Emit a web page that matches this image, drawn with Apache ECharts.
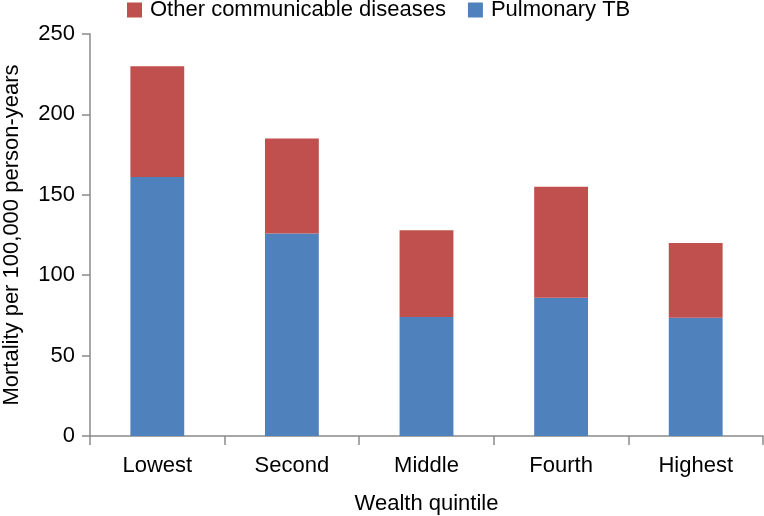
<!DOCTYPE html>
<html>
<head>
<meta charset="utf-8">
<script src="https://cdn.jsdelivr.net/npm/echarts@6/dist/echarts.min.js"></script>
<style>html,body{margin:0;padding:0;background:#fff}#c{width:764px;height:516px}</style>
</head>
<body>
<div id="c"></div>
<script>
const categories = ['Lowest', 'Second', 'Middle', 'Fourth', 'Highest'];
const pulmonaryTB = [161, 126, 74, 86, 73.5];
const otherCommunicable = [69, 59, 54, 69, 46.5];
const yTicks = { min: 0, max: 250, interval: 50 };

const FONT = '"Liberation Sans", Arial, Helvetica, sans-serif';
const FS = 22;
const chart = echarts.init(document.getElementById('c'), null, { renderer: 'canvas' });
chart.setOption({
  animation: false,
  backgroundColor: '#ffffff',
  textStyle: { fontFamily: FONT, color: '#000' },
  legend: {
    top: -1,
    left: 127,
    padding: 0,
    itemWidth: 15,
    itemHeight: 15,
    itemGap: 22,
    icon: 'rect',
    data: ['Other communicable diseases', 'Pulmonary TB'],
    textStyle: { fontFamily: FONT, fontSize: FS, color: '#000', padding: [0, 0, 0, 3] }
  },
  grid: { left: 90, right: 1, top: 34, bottom: 80, containLabel: false, outerBoundsMode: 'none' },
  xAxis: {
    type: 'category',
    data: categories,
    name: 'Wealth quintile',
    nameLocation: 'middle',
    nameGap: 57,
    nameTextStyle: { fontFamily: FONT, fontSize: FS, color: '#000' },
    axisLine: { lineStyle: { color: '#8a8a8a', width: 1.5 } },
    axisTick: { show: true, length: 9, lineStyle: { color: '#8a8a8a', width: 1.5 } },
    axisLabel: { fontFamily: FONT, fontSize: FS, color: '#000', margin: 19 },
    splitLine: { show: false }
  },
  yAxis: {
    type: 'value',
    min: yTicks.min,
    max: yTicks.max,
    interval: yTicks.interval,
    name: 'Mortality per 100,000 person-years',
    nameLocation: 'middle',
    nameGap: 67,
    nameTextStyle: { fontFamily: FONT, fontSize: FS, color: '#000' },
    axisLine: { show: true, lineStyle: { color: '#8a8a8a', width: 1.5 } },
    axisTick: { show: true, length: 8, lineStyle: { color: '#8a8a8a', width: 1.5 } },
    axisLabel: { fontFamily: FONT, fontSize: FS, color: '#000', margin: 15 },
    splitLine: { show: false }
  },
  series: [
    {
      name: 'Pulmonary TB',
      type: 'bar',
      stack: 'total',
      barWidth: '40%',
      itemStyle: { color: '#4F81BD' },
      data: pulmonaryTB
    },
    {
      name: 'Other communicable diseases',
      type: 'bar',
      stack: 'total',
      barWidth: '40%',
      itemStyle: { color: '#C0504D' },
      data: otherCommunicable
    }
  ]
});
</script>
</body>
</html>
